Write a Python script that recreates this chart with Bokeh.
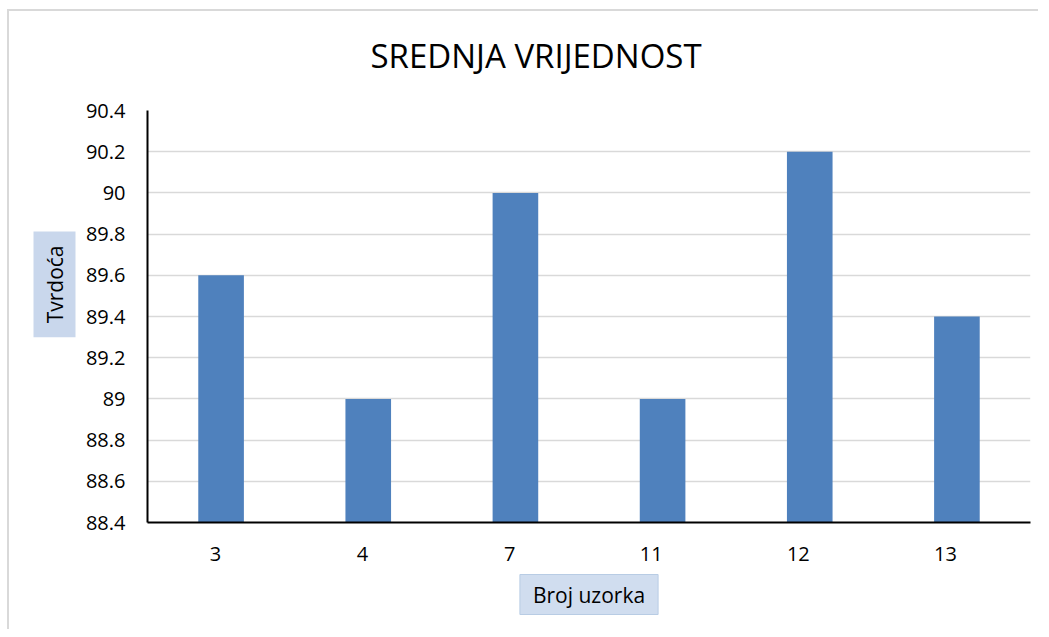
from bokeh.plotting import figure
from bokeh.models import FactorRange, Range1d, FixedTicker, CustomJSTickFormatter, Title, ColumnDataSource
from bokeh.embed import file_html
from bokeh.resources import INLINE

samples = ["3", "4", "7", "11", "12", "13"]
hardness = [89.6, 89.0, 90.0, 89.0, 90.2, 89.4]
y_ticks = [88.4, 88.6, 88.8, 89.0, 89.2, 89.4, 89.6, 89.8, 90.0, 90.2, 90.4]

title_text = "SREDNJA VRIJEDNOST"
x_label = "Broj uzorka"
y_label = "Tvrdoća"

FONT = "Open Sans"
W, H = 1031, 620

p = figure(width=W, height=H, x_range=FactorRange(factors=samples, range_padding=0),
           y_range=Range1d(88.4, 90.4), output_backend="svg", toolbar_location=None,
           min_border_left=138, min_border_right=10, min_border_top=99, min_border_bottom=109)
p.styles = {"border-left": "2px solid #d9d9d9", "border-top": "2px solid #d9d9d9",
            "margin-left": "7px", "margin-top": "9px"}
p.outline_line_color = None

src = ColumnDataSource(dict(x=samples, top=hardness))
p.vbar(x="x", top="top", bottom=88.4, width=0.31, source=src,
       fill_color="#4f81bd", line_color=None)

p.xgrid.grid_line_color = None
p.ygrid.grid_line_color = "#d9d9d9"
p.ygrid.grid_line_width = 1.5

p.yaxis.ticker = FixedTicker(ticks=y_ticks)
p.yaxis.formatter = CustomJSTickFormatter(code="return String(Math.round(tick*10)/10);")
for ax in (p.xaxis, p.yaxis):
    ax.axis_line_color = "black"
    ax.axis_line_width = 2
    ax.major_tick_line_color = None
    ax.minor_tick_line_color = None
    ax.major_label_text_font = FONT
    ax.major_label_text_font_size = "20px"
    ax.major_label_text_color = "black"
p.yaxis.major_label_standoff = 16
p.xaxis.major_label_standoff = 25
p.xaxis.major_label_orientation = 0

p.title = Title(text=title_text, align="left", offset=223, standoff=0,
                padding=dict(left=0, right=0, top=0, bottom=33),
                text_font=FONT, text_font_size="33px", text_font_style="normal",
                text_color="black")
p.add_layout(Title(text=y_label, align="right", offset=121, standoff=14,
                   text_font=FONT, text_font_size="21px", text_font_style="normal",
                   text_color="black", background_fill_color="#c9d7ec", padding=(14, 7)),
             "left")
p.add_layout(Title(text=x_label, align="center", vertical_align="top", standoff=8,
                   text_font=FONT, text_font_size="21px", text_font_style="normal",
                   text_color="black", background_fill_color="#d0ddef",
                   border_line_color="#b8cce4", padding=(13, 6)),
             "below")

open("out.html", "w").write(file_html(p, INLINE))
